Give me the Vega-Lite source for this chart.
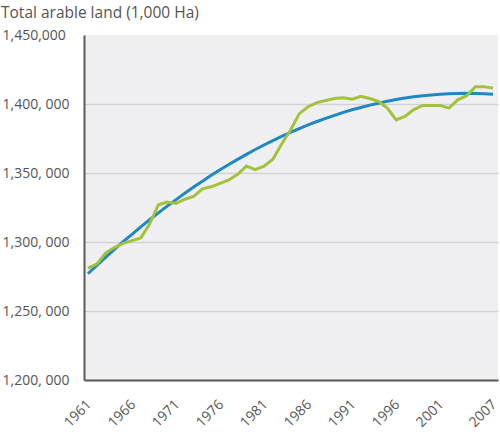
{
  "$schema": "https://vega.github.io/schema/vega-lite/v6.json",
  "width": 414,
  "height": 345,
  "autosize": {"type": "none"},
  "padding": {"left": 84, "top": 35, "right": 2, "bottom": 55},
  "background": "white",
  "config": {
    "font": "Open Sans",
    "view": {"fill": "#f0f0f2", "stroke": null}
  },
  "title": {
    "text": "Total arable land (1,000 Ha)",
    "anchor": "start",
    "frame": "group",
    "dx": -83,
    "offset": 7,
    "fontSize": 15.5,
    "fontWeight": "normal",
    "color": "#555555"
  },
  "datasets": {
    "actual": [
      {"year": 1961, "land": 1281000}, {"year": 1962, "land": 1284000},
      {"year": 1963, "land": 1292000}, {"year": 1964, "land": 1296000},
      {"year": 1965, "land": 1299000}, {"year": 1966, "land": 1301000},
      {"year": 1967, "land": 1303000}, {"year": 1968, "land": 1313000},
      {"year": 1969, "land": 1327000}, {"year": 1970, "land": 1329000},
      {"year": 1971, "land": 1328000}, {"year": 1972, "land": 1331000},
      {"year": 1973, "land": 1333000}, {"year": 1974, "land": 1338500},
      {"year": 1975, "land": 1340000}, {"year": 1976, "land": 1342500},
      {"year": 1977, "land": 1345000}, {"year": 1978, "land": 1349000},
      {"year": 1979, "land": 1355000}, {"year": 1980, "land": 1352500},
      {"year": 1981, "land": 1355000}, {"year": 1982, "land": 1360000},
      {"year": 1983, "land": 1371000}, {"year": 1984, "land": 1381000},
      {"year": 1985, "land": 1393000}, {"year": 1986, "land": 1398000},
      {"year": 1987, "land": 1401000}, {"year": 1988, "land": 1402500},
      {"year": 1989, "land": 1404000}, {"year": 1990, "land": 1404500},
      {"year": 1991, "land": 1403500}, {"year": 1992, "land": 1405500},
      {"year": 1993, "land": 1404000}, {"year": 1994, "land": 1402000},
      {"year": 1995, "land": 1397000}, {"year": 1996, "land": 1388500},
      {"year": 1997, "land": 1391000}, {"year": 1998, "land": 1396000},
      {"year": 1999, "land": 1399000}, {"year": 2000, "land": 1399000},
      {"year": 2001, "land": 1399000}, {"year": 2002, "land": 1397000},
      {"year": 2003, "land": 1403000}, {"year": 2004, "land": 1406000},
      {"year": 2005, "land": 1412500}, {"year": 2006, "land": 1412500},
      {"year": 2007, "land": 1411500}
    ],
    "trend": [
      {"year": 1961, "land": 1277000}, {"year": 1962, "land": 1283000},
      {"year": 1963, "land": 1288900}, {"year": 1964, "land": 1294600},
      {"year": 1965, "land": 1300200}, {"year": 1966, "land": 1305600},
      {"year": 1967, "land": 1310900}, {"year": 1968, "land": 1316100},
      {"year": 1969, "land": 1321100}, {"year": 1970, "land": 1326000},
      {"year": 1971, "land": 1330700}, {"year": 1972, "land": 1335300},
      {"year": 1973, "land": 1339800}, {"year": 1974, "land": 1344100},
      {"year": 1975, "land": 1348300}, {"year": 1976, "land": 1352300},
      {"year": 1977, "land": 1356200}, {"year": 1978, "land": 1359900},
      {"year": 1979, "land": 1363500}, {"year": 1980, "land": 1367000},
      {"year": 1981, "land": 1370300}, {"year": 1982, "land": 1373500},
      {"year": 1983, "land": 1376500}, {"year": 1984, "land": 1379400},
      {"year": 1985, "land": 1382200}, {"year": 1986, "land": 1384800},
      {"year": 1987, "land": 1387300}, {"year": 1988, "land": 1389600},
      {"year": 1989, "land": 1391800}, {"year": 1990, "land": 1393900},
      {"year": 1991, "land": 1395800}, {"year": 1992, "land": 1397500},
      {"year": 1993, "land": 1399200}, {"year": 1994, "land": 1400600},
      {"year": 1995, "land": 1402000}, {"year": 1996, "land": 1403200},
      {"year": 1997, "land": 1404300}, {"year": 1998, "land": 1405200},
      {"year": 1999, "land": 1405900}, {"year": 2000, "land": 1406600},
      {"year": 2001, "land": 1407100}, {"year": 2002, "land": 1407400},
      {"year": 2003, "land": 1407600}, {"year": 2004, "land": 1407700},
      {"year": 2005, "land": 1407600}, {"year": 2006, "land": 1407400},
      {"year": 2007, "land": 1407100}
    ]
  },
  "encoding": {
    "x": {
      "field": "year",
      "type": "quantitative",
      "scale": {"domain": [1960.55, 2007.57], "nice": false, "zero": false},
      "axis": {
        "title": null,
        "values": [1961, 1966, 1971, 1976, 1981, 1986, 1991, 1996, 2001, 2007],
        "format": "d",
        "labelAngle": -45,
        "labelAlign": "right",
        "labelBaseline": "middle",
        "labelPadding": 22,
        "labelOffset": 1,
        "labelFontSize": 14,
        "labelColor": "#555555",
        "labelOverlap": false,
        "ticks": false,
        "grid": false,
        "domainColor": "#5a5a5a",
        "domainWidth": 2
      }
    },
    "y": {
      "field": "land",
      "type": "quantitative",
      "scale": {"domain": [1200000, 1450000], "nice": false, "zero": false},
      "axis": {
        "title": null,
        "values": [1200000, 1250000, 1300000, 1350000, 1400000, 1450000],
        "labelExpr": "datum.value == 1450000 ? '1,450,000' : format(datum.value / 1000, ',') + ', 000'",
        "labelAlign": "left",
        "labelPadding": 82,
        "labelFontSize": 14,
        "labelColor": "#555555",
        "ticks": false,
        "grid": true,
        "gridColor": "#d2d2d4",
        "gridWidth": 1.5,
        "gridOpacity": {"condition": {"test": "datum.value == 1450000", "value": 0}, "value": 1},
        "domainColor": "#5a5a5a",
        "domainWidth": 2
      }
    }
  },
  "layer": [
    {
      "data": {"name": "trend"},
      "mark": {"type": "line", "color": "#1f87c4", "strokeWidth": 3}
    },
    {
      "data": {"name": "actual"},
      "mark": {"type": "line", "color": "#a3c23c", "strokeWidth": 3}
    }
  ]
}
